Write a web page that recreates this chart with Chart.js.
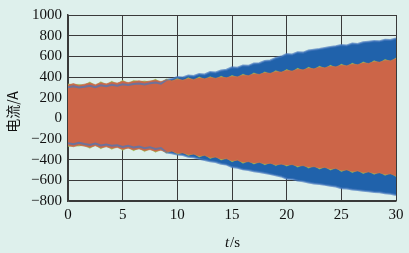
<!DOCTYPE html>
<html>
<head>
<meta charset="utf-8">
<script src="https://cdn.jsdelivr.net/npm/chart.js@4.4.1/dist/chart.umd.min.js"></script>
<style>
  html, body { margin: 0; padding: 0; background: #def0ec; }
  #wrap { width: 409px; height: 253px; }
</style>
</head>
<body>
<div id="wrap"><canvas id="chart" width="409" height="253"></canvas></div>
<script>
// time samples (s)
const times = [
  0, 0.5, 1, 1.5, 2, 2.5, 3, 3.5, 4, 4.5,
  5, 5.5, 6, 6.5, 7, 7.5, 8, 8.5, 9, 9.5,
  10, 10.5, 11, 11.5, 12, 12.5, 13, 13.5, 14, 14.5,
  15, 15.5, 16, 16.5, 17, 17.5, 18, 18.5, 19, 19.5,
  20, 20.5, 21, 21.5, 22, 22.5, 23, 23.5, 24, 24.5,
  25, 25.5, 26, 26.5, 27, 27.5, 28, 28.5, 29, 29.5,
  30
];

// envelope of the orange current (A)
const orangeTop = [
  322, 336, 318, 331, 342, 326, 345, 334, 350, 341,
  358, 346, 356, 364, 351, 362, 369, 356, 371, 364,
  377, 370, 384, 377, 390, 384, 394, 389, 398, 394,
  405, 403, 418, 414, 430, 426, 440, 436, 452, 448,
  462, 458, 474, 470, 484, 480, 494, 490, 503, 499,
  514, 510, 524, 520, 536, 532, 548, 544, 560, 558,
  576
];
const orangeBottom = [
  -262, -275, -258, -270, -281, -266, -285, -276, -290, -282,
  -300, -289, -304, -296, -312, -303, -318, -310, -326, -318,
  -338, -336, -350, -348, -364, -360, -378, -376, -394, -392,
  -410, -406, -424, -420, -432, -428, -440, -436, -448, -444,
  -452, -448, -462, -458, -472, -468, -480, -476, -490, -486,
  -504, -500, -514, -510, -524, -520, -532, -528, -542, -538,
  -556
];

// envelope of the green current (A), only peeks out here and there
const greenTop = [
  334, 330, 330, 325, 354, 320, 357, 328, 362, 335,
  370, 340, 368, 358, 363, 356, 381, 350, 383, 358,
  389, 364, 396, 371, 402, 378, 406, 383, 410, 388,
  417, 397, 430, 408, 442, 420, 452, 430, 464, 442,
  474, 452, 486, 464, 496, 474, 506, 484, 515, 493,
  526, 504, 536, 514, 548, 526, 560, 538, 572, 552,
  586
];
const greenBottom = [
  -274, -269, -270, -264, -293, -260, -297, -270, -302, -276,
  -312, -283, -316, -290, -324, -297, -330, -304, -338, -312,
  -350, -330, -362, -342, -376, -354, -390, -370, -406, -386,
  -422, -400, -436, -414, -444, -422, -452, -430, -460, -438,
  -464, -442, -474, -452, -484, -462, -492, -470, -502, -480,
  -516, -494, -526, -504, -536, -514, -544, -522, -554, -532,
  -566
];

// envelope of the blue current (A)
const blueTop = [
  300, 310, 298, 306, 316, 302, 320, 310, 324, 316,
  330, 322, 332, 338, 328, 340, 346, 336, 372, 380,
  400, 396, 414, 410, 428, 424, 448, 444, 462, 470,
  494, 490, 512, 508, 530, 534, 556, 560, 584, 598,
  622, 618, 640, 636, 656, 664, 670, 680, 690, 698,
  710, 706, 724, 720, 736, 742, 748, 746, 760, 758,
  772
];
const blueBottom = [
  -240, -250, -236, -248, -258, -244, -262, -254, -266, -260,
  -278, -266, -282, -274, -290, -280, -296, -288, -330, -338,
  -350, -356, -372, -376, -392, -404, -416, -422, -440, -448,
  -472, -478, -494, -500, -512, -520, -530, -540, -552, -562,
  -584, -588, -602, -610, -620, -630, -636, -644, -652, -660,
  -676, -680, -688, -694, -700, -706, -712, -716, -724, -730,
  -742
];

const xTicks = [0, 5, 10, 15, 20, 25, 30];
const yTicks = [-800, -600, -400, -200, 0, 200, 400, 600, 800, 1000];

const toPoints = (vals) => vals.map((v, i) => ({ x: times[i], y: v }));

function band(vals, color, edge, width, fill) {
    return {
        data: toPoints(vals),
        borderColor: edge,
        backgroundColor: color,
        borderWidth: width,
        pointRadius: 0,
        tension: 0,
        fill: fill
    };
}

// axis titles drawn by hand (italic t, rotated Chinese label)
const titlePlugin = {
    id: 'titles',
    afterDraw(chart) {
        const ctx = chart.ctx;
        const area = chart.chartArea;
        ctx.save();
        ctx.fillStyle = '#111';
        ctx.textBaseline = 'middle';

        // x title: t/s
        const italic = 'italic 15px "Liberation Serif"';
        const normal = '15px "Liberation Serif"';
        ctx.font = italic;
        const wT = ctx.measureText('t').width;
        ctx.font = normal;
        const wS = ctx.measureText('/s').width;
        let x = 232 - (wT + wS) / 2;
        ctx.textAlign = 'left';
        ctx.font = italic;
        ctx.fillText('t', x, 243);
        ctx.font = normal;
        ctx.fillText('/s', x + wT + 1, 243);

        // y title
        ctx.translate(13, (area.top + area.bottom) / 2 + 4);
        ctx.rotate(-Math.PI / 2);
        ctx.textAlign = 'center';
        ctx.font = '14px "Noto Sans CJK SC"';
        ctx.fillText('电流/A', 0, 0);
        ctx.restore();
    }
};

const gridColor = '#3a3a3a';

new Chart(document.getElementById('chart'), {
    type: 'line',
    data: {
        datasets: [
            band(orangeTop, '#cc6548', 'rgba(204,101,72,0.6)', 1, '+1'),
            band(orangeBottom, '#cc6548', 'rgba(204,101,72,0.6)', 1, false),
            band(greenTop, '#9cbf55', 'rgba(156,191,85,0.4)', 0.5, '+1'),
            band(greenBottom, '#9cbf55', 'rgba(156,191,85,0.4)', 0.5, false),
            band(blueTop, '#2062ab', 'rgba(70,120,190,0.7)', 2, '+1'),
            band(blueBottom, '#2062ab', 'rgba(70,120,190,0.7)', 2, false)
        ]
    },
    options: {
        responsive: false,
        animation: false,
        layout: { padding: { top: 10, right: 13, left: 0, bottom: 0 } },
        plugins: {
            legend: { display: false },
            tooltip: { enabled: false },
            filler: { drawTime: 'beforeDatasetsDraw' }
        },
        scales: {
            x: {
                type: 'linear',
                min: 0,
                max: 30,
                afterBuildTicks: (axis) => { axis.ticks = xTicks.map(v => ({ value: v })); },
                afterFit: (axis) => { axis.height = 52; },
                grid: { color: gridColor, lineWidth: 1, drawTicks: false },
                border: { color: gridColor, width: 1.5 },
                ticks: {
                    color: '#111',
                    padding: 5,
                    maxRotation: 0,
                    autoSkip: false,
                    font: { family: 'Liberation Serif', size: 15 }
                }
            },
            y: {
                min: -800,
                max: 1000,
                afterBuildTicks: (axis) => { axis.ticks = yTicks.map(v => ({ value: v })); },
                afterFit: (axis) => { axis.width = 68; },
                grid: { color: gridColor, lineWidth: 1, drawTicks: false },
                border: { color: gridColor, width: 1.5 },
                ticks: {
                    color: '#111',
                    padding: 6,
                    autoSkip: false,
                    font: { family: 'Liberation Serif', size: 15 },
                    callback: (v) => String(v).replace('-', '\u2212')
                }
            }
        }
    },
    plugins: [titlePlugin]
});
</script>
</body>
</html>
